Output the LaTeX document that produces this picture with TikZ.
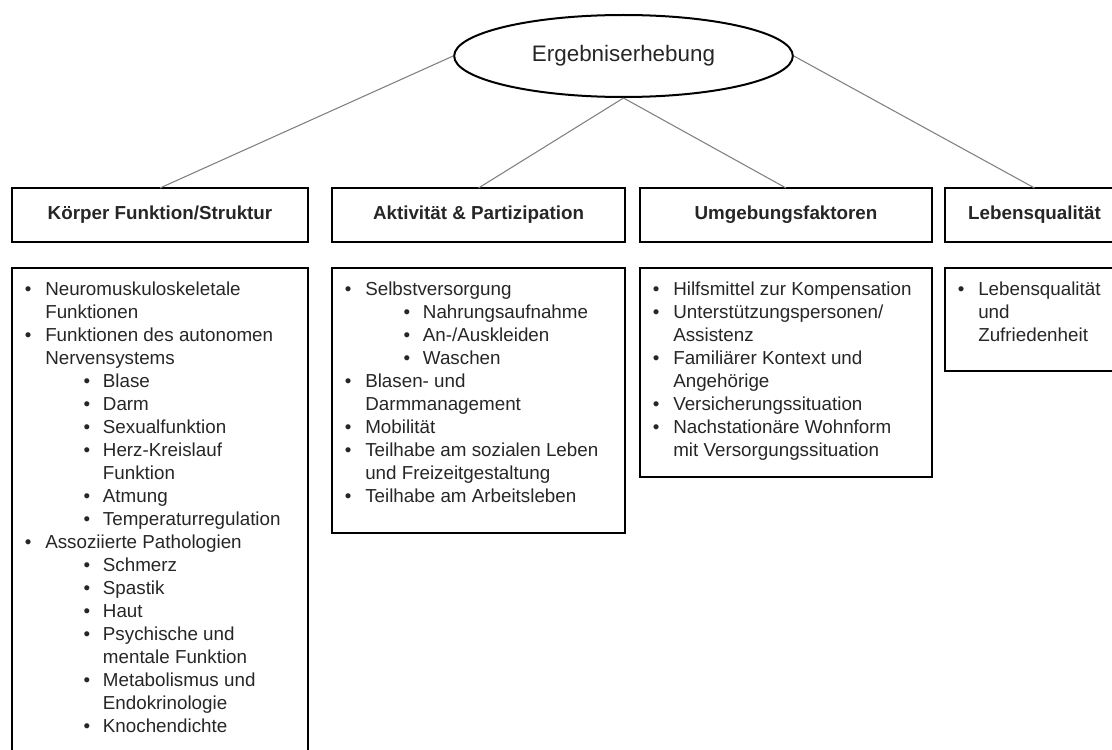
\documentclass[tikz,border=0pt]{standalone}
\usepackage{fontspec}
\setmainfont{Liberation Sans}
\usetikzlibrary{shapes.geometric}

% list lines: bullet / continuation, first and second level
\newcommand{\bulA}[1]{\makebox[24.75pt][l]{\hspace*{9.5pt}\textbullet}#1}
\newcommand{\contA}[1]{\hspace*{24.75pt}#1}
\newcommand{\bulB}[1]{\makebox[68pt][l]{\hspace*{53.5pt}\textbullet}#1}
\newcommand{\contB}[1]{\hspace*{68pt}#1}

\begin{document}
\begin{tikzpicture}[x=.75pt,y=-.75pt,
  head/.style={draw, line width=1.5pt, outer sep=0pt, minimum height=40.5pt,
    font=\fontsize{14.1pt}{17pt}\selectfont\bfseries, text=black!85},
  listbox/.style={draw, line width=1.5pt, outer sep=0pt, anchor=north west},
  listtext/.style={anchor=north west, inner sep=0pt, align=left,
    font=\fontsize{14.1pt}{17.25pt}\selectfont, text=black!85},
  link/.style={draw=gray, line width=.8pt}]
\useasboundingbox (0,0) rectangle (1112,749);
\clip (0,0) rectangle (1112,749);
% top ellipse
\node [draw, ellipse, line width=1.5pt, minimum width=254pt, minimum height=61.5pt,
  font=\fontsize{16.8pt}{20pt}\selectfont, text=black!85] (ergeb) at (623.5,56) {Ergebniserhebung};
% headings
\node [head, minimum width=222pt] (koerper) at (160,215) {Körper Funktion/Struktur};
\node [head, minimum width=219.75pt] (aktiv) at (478.5,215) {Aktivität \& Partizipation};
\node [head, minimum width=219pt] (umgeb) at (786,215) {Umgebungsfaktoren};
\node [head, minimum width=134.25pt] (lebq) at (1034.5,215) {Lebensqualität};
% connecting lines
\draw [link] (ergeb.west) -- (koerper.north);
\draw [link] (ergeb.south) -- (aktiv.north);
\draw [link] (ergeb.south) -- (umgeb.north);
\draw [link] (ergeb.east) -- (lebq.north);
% list boxes
\node [listbox, minimum width=222pt, minimum height=369pt] (koerperbox) at (12,268) {};
\node [listbox, minimum width=219.75pt, minimum height=198.75pt] (aktivbox) at (332,268) {};
\node [listbox, minimum width=219pt, minimum height=156.75pt] (umgebbox) at (640,268) {};
\node [listbox, minimum width=134.25pt, minimum height=77.25pt] (lebqbox) at (945,268) {};
% lists
\node [listtext] (koerperlist) at (12,282) {\bulA{Neuromuskuloskeletale}\\
  \contA{Funktionen}\\
  \bulA{Funktionen des autonomen}\\
  \contA{Nervensystems}\\
  \bulB{Blase}\\
  \bulB{Darm}\\
  \bulB{Sexualfunktion}\\
  \bulB{Herz-Kreislauf}\\
  \contB{Funktion}\\
  \bulB{Atmung}\\
  \bulB{Temperaturregulation}\\
  \bulA{Assoziierte Pathologien}\\
  \bulB{Schmerz}\\
  \bulB{Spastik}\\
  \bulB{Haut}\\
  \bulB{Psychische und}\\
  \contB{mentale Funktion}\\
  \bulB{Metabolismus und}\\
  \contB{Endokrinologie}\\
  \bulB{Knochendichte}};
\node [listtext] (aktivlist) at (332,282) {\bulA{Selbstversorgung}\\
  \bulB{Nahrungsaufnahme}\\
  \bulB{An-/Auskleiden}\\
  \bulB{Waschen}\\
  \bulA{Blasen- und}\\
  \contA{Darmmanagement}\\
  \bulA{Mobilität}\\
  \bulA{Teilhabe am sozialen Leben}\\
  \contA{und Freizeitgestaltung}\\
  \bulA{Teilhabe am Arbeitsleben}};
\node [listtext] (umgeblist) at (640,282) {\bulA{Hilfsmittel zur Kompensation}\\
  \bulA{Unterstützungspersonen/}\\
  \contA{Assistenz}\\
  \bulA{Familiärer Kontext und}\\
  \contA{Angehörige}\\
  \bulA{Versicherungssituation}\\
  \bulA{Nachstationäre Wohnform}\\
  \contA{mit Versorgungssituation}};
\node [listtext] (lebqlist) at (945,282) {\bulA{Lebensqualität}\\
  \contA{und}\\
  \contA{Zufriedenheit}};
\end{tikzpicture}
\end{document}
